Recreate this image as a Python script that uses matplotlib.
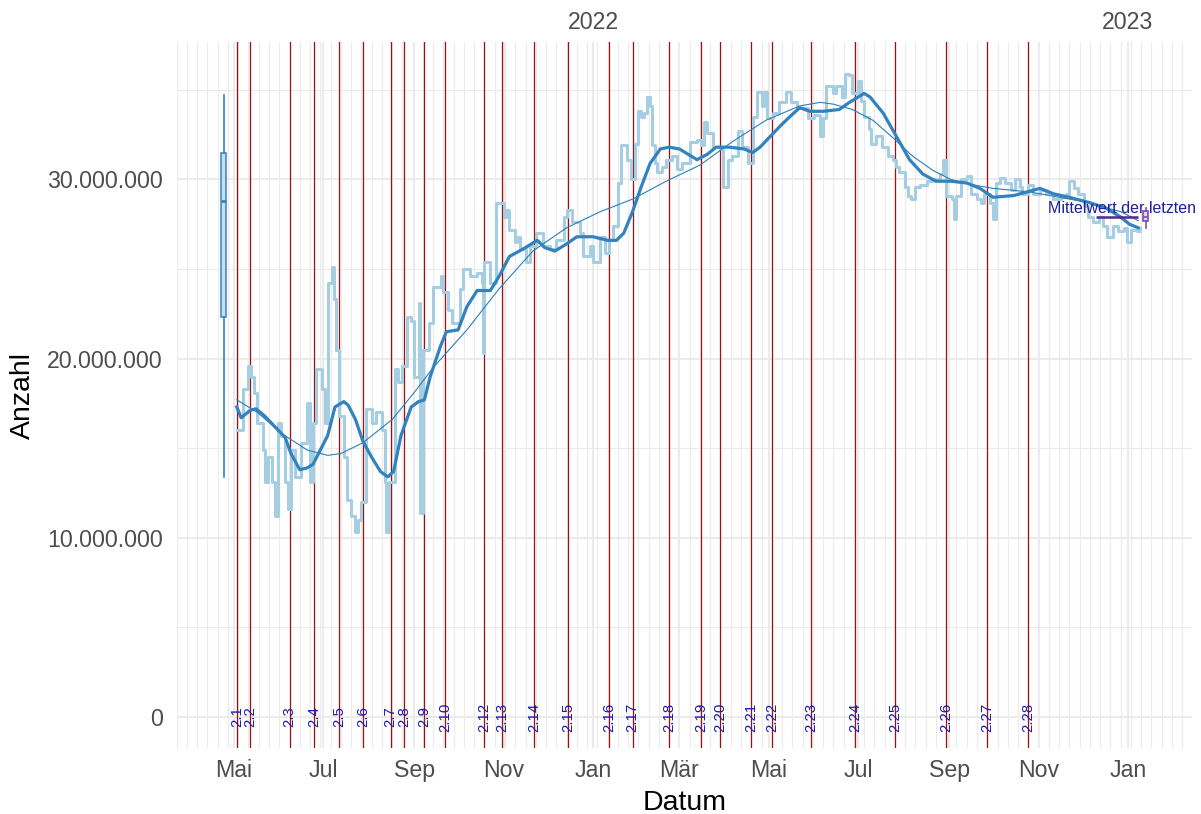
import numpy as np
import pandas as pd
import matplotlib
matplotlib.use("Agg")
import matplotlib.pyplot as plt
import matplotlib.dates as mdates
from matplotlib.ticker import FuncFormatter, FixedLocator

plt.rcParams['font.family'] = ['Liberation Sans', 'DejaVu Sans']

# Startdatum, alle Tagesangaben sind Tage ab hier
start = pd.Timestamp('2021-05-01')

# Rohwerte (Mio.), Tag ab Start
raw_day = [2, 6, 10, 12, 14, 16, 20, 21, 23, 26,
           28, 30, 32, 35, 37, 39, 42, 46, 50, 52,
           54, 56, 60, 62, 64, 67, 68, 70, 72, 75,
           77, 80, 83, 85, 87, 90, 94, 97, 101, 103,
           104, 106, 110, 112, 115, 118, 121, 123, 126, 127,
           129, 133, 136, 141, 143, 146, 149, 154, 156, 161,
           166, 169, 170, 171, 175, 179, 181, 184, 186, 188,
           192, 193, 195, 199, 202, 206, 211, 216, 220, 225,
           227, 231, 236, 238, 243, 245, 250, 253, 256, 259,
           262, 264, 268, 271, 274, 276, 278, 280, 282, 284,
           285, 287, 289, 292, 295, 299, 302, 306, 311, 316,
           319, 321, 323, 327, 332, 334, 337, 340, 344, 347,
           351, 354, 357, 360, 362, 364, 368, 372, 377, 380,
           384, 388, 392, 396, 400, 402, 404, 409, 411, 415,
           417, 420, 422, 426, 428, 430, 433, 435, 438, 442,
           446, 450, 452, 454, 458, 460, 462, 465, 468, 473,
           477, 482, 484, 486, 490, 491, 493, 496, 500, 503,
           507, 510, 512, 516, 518, 520, 523, 526, 530, 533,
           536, 538, 542, 545, 550, 554, 559, 564, 568, 570,
           573, 576, 580, 583, 586, 590, 593, 596, 600, 603,
           607, 609, 612, 616, 618]
raw_val = [16.0, 18.3, 19.6, 19.0, 18.1, 16.4, 14.9, 13.1, 14.5, 13.1,
           11.2, 16.4, 15.7, 13.1, 11.6, 14.9, 13.4, 15.3, 17.5, 13.1,
           16.4, 19.4, 18.3, 16.4, 24.2, 25.1, 23.3, 20.5, 16.8, 14.5,
           12.1, 11.2, 10.3, 11.0, 12.0, 17.2, 16.4, 17.0, 16.0, 13.1,
           10.3, 13.1, 19.4, 18.7, 19.6, 22.3, 22.1, 19.0, 23.1, 11.4,
           20.5, 22.0, 24.0, 24.6, 23.7, 22.7, 22.0, 23.9, 25.0, 24.6,
           24.8, 24.2, 20.3, 25.4, 24.2, 28.7, 28.7, 27.9, 28.3, 27.2,
           26.5, 26.8, 26.1, 25.4, 26.3, 27.0, 26.3, 26.1, 26.6, 27.9,
           28.3, 27.6, 27.0, 25.7, 26.3, 25.4, 26.8, 25.9, 26.6, 27.4,
           29.8, 31.9, 31.1, 30.0, 32.0, 33.8, 33.5, 33.7, 34.6, 34.1,
           31.9, 30.9, 30.4, 30.7, 31.1, 31.3, 30.6, 30.9, 32.1, 32.2,
           31.9, 33.2, 32.6, 31.8, 31.7, 29.6, 31.1, 31.3, 32.7, 31.8,
           30.9, 33.5, 34.9, 34.1, 34.9, 33.4, 33.7, 34.3, 34.9, 34.3,
           34.0, 34.0, 33.4, 33.6, 32.4, 33.4, 35.2, 34.8, 35.2, 34.6,
           35.9, 35.8, 34.8, 35.5, 34.4, 33.5, 32.8, 32.0, 32.4, 31.8,
           31.3, 31.1, 30.7, 30.4, 29.6, 29.1, 28.9, 29.6, 29.7, 29.9,
           30.0, 30.3, 31.1, 29.1, 28.9, 27.8, 29.1, 30.0, 30.2, 29.2,
           28.9, 28.7, 29.2, 28.7, 27.8, 29.8, 30.1, 29.8, 29.4, 30.0,
           29.6, 29.2, 29.7, 29.2, 29.4, 29.2, 28.9, 29.0, 29.2, 29.9,
           29.5, 29.2, 28.5, 27.9, 27.6, 27.9, 27.4, 26.8, 27.4, 27.1,
           27.3, 26.5, 27.2, 27.1, 27.3]

# gleitender Mittelwert (dicke Linie)
roll_day = [2, 5, 11, 15, 21, 28, 35, 39, 45, 50,
            54, 59, 64, 69, 75, 78, 83, 88, 94, 100,
            105, 109, 114, 121, 126, 130, 134, 141, 145, 153,
            159, 166, 175, 181, 188, 197, 207, 212, 219, 227,
            234, 245, 255, 261, 266, 272, 278, 284, 291, 297,
            304, 310, 316, 323, 329, 338, 348, 354, 359, 366,
            373, 378, 386, 393, 402, 413, 420, 430, 434, 443,
            452, 461, 470, 479, 489, 500, 509, 518, 532, 541,
            550, 559, 570, 584, 595, 605, 611, 617]
roll_val = [17.3, 16.7, 17.1, 17.2, 16.8, 16.2, 15.6, 14.7, 13.8, 13.9,
            14.1, 14.9, 15.7, 17.3, 17.6, 17.4, 16.6, 15.4, 14.5, 13.7,
            13.4, 13.7, 15.7, 17.3, 17.6, 17.7, 19.0, 20.7, 21.5, 21.6,
            22.9, 23.8, 23.8, 24.6, 25.7, 26.1, 26.6, 26.2, 26.0, 26.4,
            26.8, 26.8, 26.6, 26.6, 27.0, 28.2, 29.6, 30.9, 31.7, 31.8,
            31.7, 31.4, 31.1, 31.4, 31.8, 31.8, 31.7, 31.5, 31.8, 32.4,
            33.0, 33.4, 34.0, 33.8, 33.8, 33.9, 34.3, 34.8, 34.6, 33.7,
            32.4, 31.1, 30.3, 29.9, 29.9, 29.8, 29.5, 29.0, 29.1, 29.3,
            29.5, 29.2, 29.0, 28.7, 28.4, 27.9, 27.5, 27.3]

# Glättung (dünne Linie)
smooth_day = [2, 16, 33, 50, 64, 73, 88, 108, 123, 136,
              159, 181, 204, 227, 250, 272, 295, 318, 340, 363,
              386, 400, 409, 422, 436, 450, 463, 477, 489, 504,
              518, 543, 577, 605, 617]
smooth_val = [17.7, 17.0, 15.8, 14.9, 14.6, 14.7, 15.3, 16.6, 18.1, 19.5,
              21.6, 23.9, 26.0, 27.3, 28.2, 28.9, 29.9, 30.8, 32.1, 33.3,
              34.1, 34.3, 34.2, 33.9, 33.3, 32.3, 31.3, 30.5, 30.0, 29.7,
              29.5, 29.3, 28.8, 28.2, 27.7]

# Versionen
versions = ['2.1', '2.2', '2.3', '2.4', '2.5', '2.6', '2.7', '2.8', '2.9', '2.10',
            '2.12', '2.13', '2.14', '2.15', '2.16', '2.17', '2.18', '2.19', '2.20',
            '2.21', '2.22', '2.23', '2.24', '2.25', '2.26', '2.27', '2.28']
version_dates = ['2021-05-03', '2021-05-12', '2021-06-08', '2021-06-25', '2021-07-12',
                 '2021-07-28', '2021-08-16', '2021-08-25', '2021-09-08', '2021-09-22',
                 '2021-10-19', '2021-10-31', '2021-11-22', '2021-12-15', '2022-01-12',
                 '2022-01-28', '2022-02-22', '2022-03-16', '2022-03-29', '2022-04-19',
                 '2022-05-03', '2022-05-30', '2022-06-29', '2022-07-26', '2022-08-30',
                 '2022-09-27', '2022-10-25']

# Boxplot gesamt (links) und der letzten Tage (rechts), Mio.
box_all = dict(whislo=13.4, q1=22.3, med=28.8, q3=31.5, whishi=34.7)
box_all_date = '2021-04-24'
box_last = dict(whislo=27.3, q1=27.7, med=27.9, q3=28.25, whishi=28.4)
box_last_date = '2023-01-13'
mean_last = 27.9
mean_from, mean_to = '2022-12-10', '2023-01-08'
mean_text = 'Mittelwert der letzten'
mean_text_date, mean_text_y = '2022-12-28', 28.4

tick_dates = ['2021-05-01', '2021-07-01', '2021-09-01', '2021-11-01', '2022-01-01',
              '2022-03-01', '2022-05-01', '2022-07-01', '2022-09-01', '2022-11-01',
              '2023-01-01']
tick_labels = ['Mai', 'Jul', 'Sep', 'Nov', 'Jan', 'Mär', 'Mai', 'Jul', 'Sep', 'Nov', 'Jan']
year_dates = ['2022-01-01', '2023-01-01']
year_labels = ['2022', '2023']

M = 1e6
def d(days):
    return start + pd.to_timedelta(np.asarray(days), unit='D')

fig = plt.figure(figsize=(12.01, 8.14), dpi=100)
ax = fig.add_axes([0.1471, 0.0811, 0.8454, 0.8669])

grid = '#EBEBEB'
x0, x1 = pd.Timestamp('2021-03-23'), pd.Timestamp('2023-02-13 16:00')
ax.set_xlim(x0, x1)
ax.set_ylim(-1.73 * M, 37.65 * M)

ax.xaxis.set_major_locator(FixedLocator(mdates.date2num(pd.to_datetime(tick_dates))))
ax.set_xticklabels(tick_labels)
ax.xaxis.set_minor_locator(FixedLocator(mdates.date2num(pd.date_range(x0, x1, freq='7D'))))
ax.yaxis.set_major_locator(FixedLocator([0, 10 * M, 20 * M, 30 * M]))
ax.yaxis.set_minor_locator(FixedLocator([5 * M, 15 * M, 25 * M, 35 * M]))
ax.yaxis.set_major_formatter(FuncFormatter(lambda v, p: f"{int(round(v)):,}".replace(',', '.')))
ax.grid(which='major', color=grid, lw=1.5, zorder=0)
ax.grid(which='minor', color=grid, lw=0.8, zorder=0)
ax.set_axisbelow(True)
for s in ax.spines.values():
    s.set_visible(False)
ax.tick_params(which='both', length=0, labelsize=16.7, labelcolor='#4D4D4D')
ax.tick_params(axis='x', pad=8)
ax.tick_params(axis='y', pad=10)

# Versionslinien
for v, vd in zip(versions, version_dates):
    ax.axvline(pd.Timestamp(vd), color='#9E0F0F', lw=0.9, zorder=2)

ax.step(d(raw_day), np.array(raw_val) * M, where='post', color='#A6CEE3', lw=2.2, zorder=3)
ax.plot(d(smooth_day), np.array(smooth_val) * M, color='#2C7FB8', lw=0.8, zorder=4)
ax.plot(d(roll_day), np.array(roll_val) * M, color='#3182BD', lw=2.3, zorder=5)

for v, vd in zip(versions, version_dates):
    ax.text(pd.Timestamp(vd), 0, v, rotation=90, ha='center', va='center',
            fontsize=10.8, color='#1a1ab4', zorder=6)

# Boxplots
st = {k: val * M for k, val in box_all.items()}
b = ax.bxp([st], positions=[mdates.date2num(pd.Timestamp(box_all_date))], widths=3,
           showfliers=False, showcaps=False, patch_artist=True, manage_ticks=False)
for p in b['boxes']:
    p.set(facecolor='#C6DBEF', edgecolor='#3182BD', lw=1.2, alpha=0.9)
for k in ['whiskers', 'medians']:
    for l in b[k]:
        l.set(color='#3182BD', lw=1.2 if k == 'whiskers' else 2)

st = {k: val * M for k, val in box_last.items()}
b = ax.bxp([st], positions=[mdates.date2num(pd.Timestamp(box_last_date))], widths=3,
           showfliers=False, showcaps=False, patch_artist=True, manage_ticks=False)
for p in b['boxes']:
    p.set(facecolor='#DADAEB', edgecolor='#7B4FB8', lw=1.2)
for k in ['whiskers', 'medians']:
    for l in b[k]:
        l.set(color='#7B4FB8', lw=1.2)

ax.hlines(mean_last * M, pd.Timestamp(mean_from), pd.Timestamp(mean_to),
          color='#54278F', lw=1.8, zorder=6)
ax.text(pd.Timestamp(mean_text_date), mean_text_y * M, mean_text, ha='center', va='center',
        fontsize=11.5, color='#1f1f99', zorder=7)

# Jahre oben
sec = ax.secondary_xaxis('top')
sec.set_xticks(mdates.date2num(pd.to_datetime(year_dates)))
sec.set_xticklabels(year_labels)
sec.tick_params(length=0, labelsize=16.7, labelcolor='#4D4D4D', pad=6)
for s in sec.spines.values():
    s.set_visible(False)

ax.set_xlabel('Datum', fontsize=20.5, color='black', labelpad=6)
ax.set_ylabel('Anzahl', fontsize=20.5, color='black', labelpad=8)

fig.savefig('out.png', dpi=100, facecolor='white')
